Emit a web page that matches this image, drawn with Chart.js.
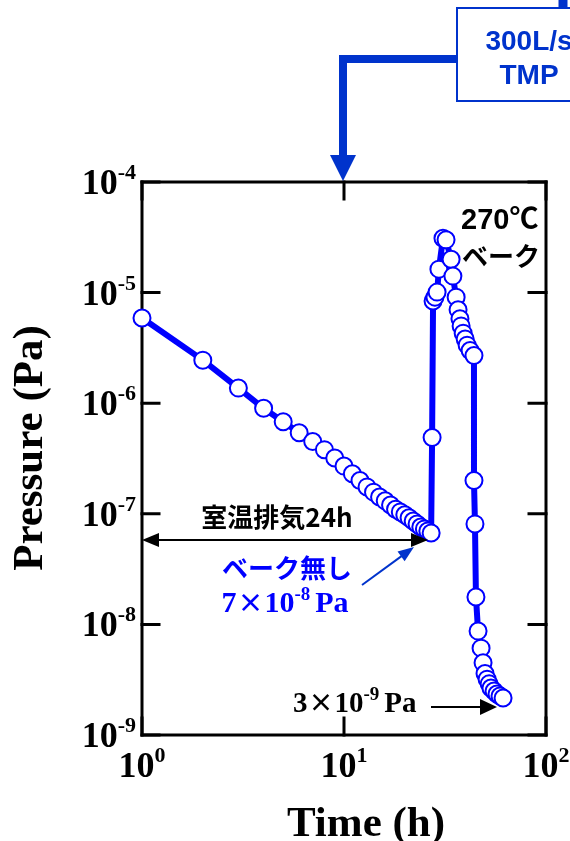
<!DOCTYPE html>
<html>
<head>
<meta charset="utf-8">
<script src="https://cdn.jsdelivr.net/npm/chart.js@4/dist/chart.umd.min.js"></script>
<style>
  html, body { margin: 0; padding: 0; background: #fff; }
  #wrap { width: 570px; height: 841px; position: relative; }
</style>
</head>
<body>
<div id="wrap"><canvas id="chart"></canvas></div>
<script>
'use strict';

// 経過時間 (h) と圧力 (Pa) — 図から読み取った値
const timeHours = [
  1, 2, 3, 4, 5, 6, 7, 8, 9, 10, 11, 12, 13, 14, 15, 16, 17, 18, 19, 20,
  21, 22, 23, 24, 25, 26, 27,
  27.3, 27.6, 28.2, 28.9, 29.5, 30.9, 32.0, 33.9, 34.6, 35.9, 36.7, 37.5,
  38.0, 38.9, 39.8, 40.7, 42.1, 44.0,
  44.0, 44.5, 45.0, 46.1, 47.7, 48.8, 49.9, 51.1, 52.3, 53.4, 55.3, 57.2, 59.2, 61.3
];
const pressurePa = [
  5.9e-6, 2.45e-6, 1.37e-6, 9.0e-7, 6.8e-7, 5.4e-7, 4.5e-7, 3.8e-7, 3.2e-7, 2.7e-7,
  2.3e-7, 2.0e-7, 1.75e-7, 1.57e-7, 1.42e-7, 1.31e-7, 1.2e-7, 1.1e-7, 1.04e-7, 9.8e-8,
  9.2e-8, 8.6e-8, 8.1e-8, 7.6e-8, 7.3e-8, 7.0e-8, 6.7e-8,
  4.9e-7, 8.4e-6, 9.1e-6, 1.01e-5, 1.63e-5, 3.1e-5, 3.0e-5, 2.0e-5, 1.41e-5, 9.1e-6, 7.0e-6, 5.8e-6,
  5.0e-6, 4.3e-6, 3.8e-6, 3.35e-6, 3.0e-6, 2.7e-6,
  2.0e-7, 8.1e-8, 1.77e-8, 8.7e-9, 6.1e-9, 4.5e-9, 3.6e-9, 3.2e-9, 2.9e-9, 2.66e-9, 2.5e-9, 2.35e-9, 2.25e-9, 2.16e-9
];

// 軸目盛 (10のべき)
const xTickValues = [1, 10, 100];
const xTickExps = ['0', '1', '2'];
const yTickValues = [1e-4, 1e-5, 1e-6, 1e-7, 1e-8, 1e-9];
const yTickExps = ['-4', '-5', '-6', '-7', '-8', '-9'];

const SERIF = '"Liberation Serif", "Times New Roman", serif';
const GOTHIC = '"Noto Sans CJK JP", sans-serif';
const ARIAL = '"Liberation Sans", Arial, "Noto Sans CJK JP", sans-serif';
const DATA_BLUE = '#0000ff';
const NOTE_BLUE = '#0033cc';

// 上付き文字を含むテキストを描く
function drawRich(ctx, parts, x, y, align) {
    let total = 0;
    parts.forEach(p => {
        ctx.font = p.f;
        p.w = ctx.measureText(p.t).width + (p.gap || 0);
        total += p.w;
    });
    let cx = x;
    if (align === 'center') cx = x - total / 2;
    if (align === 'right') cx = x - total;
    ctx.textAlign = 'left';
    ctx.textBaseline = 'alphabetic';
    parts.forEach(p => {
        ctx.font = p.f;
        ctx.fillText(p.t, cx, y + (p.dy || 0));
        cx += p.w;
    });
}

function arrow(ctx, x1, y1, x2, y2, headLen, headW, color, lw) {
    const ang = Math.atan2(y2 - y1, x2 - x1);
    const bx = x2 - headLen * Math.cos(ang);
    const by = y2 - headLen * Math.sin(ang);
    ctx.strokeStyle = color;
    ctx.fillStyle = color;
    ctx.lineWidth = lw;
    ctx.beginPath();
    ctx.moveTo(x1, y1);
    ctx.lineTo(bx + Math.cos(ang), by + Math.sin(ang));
    ctx.stroke();
    ctx.beginPath();
    ctx.moveTo(x2, y2);
    ctx.lineTo(bx + headW * Math.sin(ang), by - headW * Math.cos(ang));
    ctx.lineTo(bx - headW * Math.sin(ang), by + headW * Math.cos(ang));
    ctx.closePath();
    ctx.fill();
}

// 枠と内向きの目盛線
const framePlugin = {
    id: 'frame',
    beforeDatasetsDraw(chart) {
        const { ctx, chartArea: a, scales } = chart;
        ctx.save();
        ctx.strokeStyle = '#000';
        ctx.lineWidth = 3;
        ctx.lineCap = 'square';
        ctx.strokeRect(a.left, a.top, a.right - a.left, a.bottom - a.top);
        const tl = 17;
        yTickValues.forEach(v => {
            const py = scales.y.getPixelForValue(v);
            ctx.beginPath();
            ctx.moveTo(a.left, py); ctx.lineTo(a.left + tl, py);
            ctx.moveTo(a.right, py); ctx.lineTo(a.right - tl, py);
            ctx.stroke();
        });
        xTickValues.forEach(v => {
            const px = scales.x.getPixelForValue(v);
            ctx.beginPath();
            ctx.moveTo(px, a.top); ctx.lineTo(px, a.top + tl);
            ctx.moveTo(px, a.bottom); ctx.lineTo(px, a.bottom - tl);
            ctx.stroke();
        });
        ctx.restore();
    },
    afterDraw(chart) {
        const { ctx, chartArea: a, scales } = chart;
        ctx.save();
        ctx.fillStyle = '#000';
        const big = 'bold 36px ' + SERIF;
        const sup = 'bold 22px ' + SERIF;

        // 目盛ラベル
        yTickValues.forEach((v, i) => {
            const py = scales.y.getPixelForValue(v);
            drawRich(ctx, [{ t: '10', f: big }, { t: yTickExps[i], f: sup, dy: -15 }], 136, py + 12, 'right');
        });
        xTickValues.forEach((v, i) => {
            const px = scales.x.getPixelForValue(v);
            drawRich(ctx, [{ t: '10', f: big }, { t: xTickExps[i], f: sup, dy: -15 }], px, 777, 'center');
        });

        // 軸タイトル
        ctx.font = 'bold 43px ' + SERIF;
        ctx.textAlign = 'center';
        ctx.textBaseline = 'middle';
        ctx.save();
        ctx.translate(31, 448);
        ctx.rotate(-Math.PI / 2);
        ctx.fillText('Pressure (Pa)', 0, 0);
        ctx.restore();
        ctx.font = 'bold 43px ' + SERIF;
        ctx.textBaseline = 'alphabetic';
        ctx.fillText('Time (h)', 366, 836);

        // 室温排気
        ctx.font = 'bold 26px ' + GOTHIC;
        ctx.fillText('室温排気24h', 277, 527);
        arrow(ctx, 200, 540, a.left, 540, 17, 7, '#000', 2);
        arrow(ctx, 200, 540, 428, 540, 17, 7, '#000', 2);

        // ベーク無し
        ctx.fillStyle = DATA_BLUE;
        ctx.font = 'bold 26px ' + GOTHIC;
        ctx.textAlign = 'center';
        ctx.fillText('ベーク無し', 287, 578);
        drawRich(ctx, [
            { t: '7', f: 'bold 30px ' + SERIF, gap: 1 },
            { t: '×', f: 'bold 26px ' + GOTHIC, gap: 1 },
            { t: '10', f: 'bold 30px ' + SERIF },
            { t: '-8', f: 'bold 19px ' + SERIF, dy: -12, gap: 5 },
            { t: 'Pa', f: 'bold 30px ' + SERIF }
        ], 285, 612, 'center');
        arrow(ctx, 362, 585, 414, 547, 16, 6, NOTE_BLUE, 2);

        // 到達圧力
        ctx.fillStyle = '#000';
        drawRich(ctx, [
            { t: '3', f: 'bold 29px ' + SERIF, gap: 1 },
            { t: '×', f: 'bold 25px ' + GOTHIC, gap: 1 },
            { t: '10', f: 'bold 29px ' + SERIF },
            { t: '-9', f: 'bold 19px ' + SERIF, dy: -12, gap: 5 },
            { t: 'Pa', f: 'bold 29px ' + SERIF }
        ], 293, 712, 'left');
        arrow(ctx, 431, 707, 497, 707, 17, 8, '#000', 2);

        // 270℃ ベーク
        ctx.fillStyle = '#000';
        ctx.textAlign = 'left';
        ctx.font = 'bold 29px ' + ARIAL;
        ctx.fillText('270℃', 461, 229);
        ctx.font = 'bold 26px ' + GOTHIC;
        ctx.fillText('ベーク', 462, 266);

        // TMP 表示と導入矢印
        ctx.fillStyle = '#fff';
        ctx.fillRect(457, 8, 150, 93);
        ctx.strokeStyle = NOTE_BLUE;
        ctx.lineWidth = 2;
        ctx.strokeRect(457, 8, 150, 93);
        ctx.lineWidth = 9;
        ctx.beginPath();
        ctx.moveTo(563, 0); ctx.lineTo(563, 7);
        ctx.stroke();
        ctx.lineWidth = 8;
        ctx.lineJoin = 'miter';
        ctx.lineCap = 'butt';
        ctx.beginPath();
        ctx.moveTo(456, 59); ctx.lineTo(343, 59); ctx.lineTo(343, 157);
        ctx.stroke();
        ctx.fillStyle = NOTE_BLUE;
        ctx.beginPath();
        ctx.moveTo(330, 155); ctx.lineTo(356, 155); ctx.lineTo(343, 181);
        ctx.closePath();
        ctx.fill();
        ctx.font = 'bold 28px ' + ARIAL;
        ctx.textAlign = 'center';
        ctx.fillText('300L/s', 529, 50);
        ctx.fillText('TMP', 529, 84);
        ctx.restore();
    }
};

const points = timeHours.map((t, i) => ({ x: t, y: pressurePa[i] }));

new Chart(document.getElementById('chart').getContext('2d'), {
    type: 'line',
    data: {
        datasets: [{
            data: points,
            borderColor: DATA_BLUE,
            borderWidth: 6,
            tension: 0,
            pointRadius: 8.5,
            pointBackgroundColor: '#fff',
            pointBorderColor: DATA_BLUE,
            pointBorderWidth: 2,
            clip: false
        }]
    },
    options: {
        responsive: true,
        maintainAspectRatio: false,
        animation: false,
        layout: { padding: { left: 142, right: 24, top: 182, bottom: 106 } },
        scales: {
            x: { type: 'logarithmic', min: 1, max: 100, display: false },
            y: { type: 'logarithmic', min: 1e-9, max: 1e-4, display: false }
        },
        plugins: { legend: { display: false }, tooltip: { enabled: false } }
    },
    plugins: [framePlugin]
});
</script>
</body>
</html>
